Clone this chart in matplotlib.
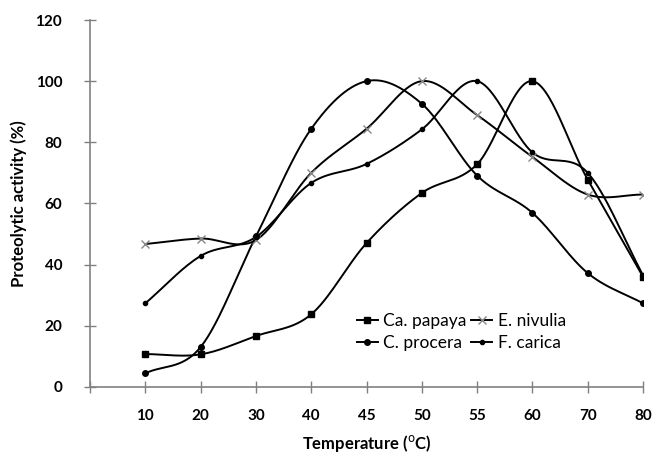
import numpy as np
import matplotlib
matplotlib.use("Agg")
import matplotlib.pyplot as plt
from matplotlib.lines import Line2D

temps = ["10", "20", "30", "40", "45", "50", "55", "60", "70", "80"]
ca_papaya = [10.7, 10.6, 16.6, 23.7, 47.0, 63.4, 72.8, 100.0, 67.8, 36.0]
e_nivulia = [46.7, 48.5, 48.0, 70.0, 84.4, 100.0, 88.9, 75.2, 62.9, 62.9]
c_procera = [4.4, 13.0, 49.2, 84.4, 100.0, 92.6, 69.1, 56.9, 37.2, 27.3]
f_carica = [27.3, 42.8, 49.0, 66.7, 72.9, 84.2, 100.0, 76.7, 70.0, 36.5]

plt.rcParams['font.family'] = ['Lato', 'DejaVu Sans']

fig = plt.figure(figsize=(6.67, 4.55), dpi=100)
ax = fig.add_axes([0.135, 0.150, 0.829, 0.806])

x = np.arange(1, len(temps) + 1)


def smooth(xs, ys, n=30):
    xs = np.asarray(xs, float); ys = np.asarray(ys, float)
    px = np.concatenate([[2 * xs[0] - xs[1]], xs, [2 * xs[-1] - xs[-2]]])
    py = np.concatenate([[2 * ys[0] - ys[1]], ys, [2 * ys[-1] - ys[-2]]])
    ox, oy = [], []
    for i in range(1, len(px) - 2):
        t = np.linspace(0, 1, n, endpoint=False)
        for P, out in ((px, ox), (py, oy)):
            p0, p1, p2, p3 = P[i - 1], P[i], P[i + 1], P[i + 2]
            out.extend(0.5 * ((2 * p1) + (-p0 + p2) * t + (2 * p0 - 5 * p1 + 4 * p2 - p3) * t ** 2
                              + (-p0 + 3 * p1 - 3 * p2 + p3) * t ** 3))
    ox.append(xs[-1]); oy.append(ys[-1])
    return np.array(ox), np.array(oy)


series = [
    ("Ca. papaya", ca_papaya, dict(marker='s', markersize=5, mfc='black', mec='black')),
    ("E. nivulia", e_nivulia, dict(marker='x', markersize=5.5, mfc='#888888', mec='#888888', mew=1.0)),
    ("C. procera", c_procera, dict(marker='o', markersize=4, mfc='black', mec='black')),
    ("F. carica", f_carica, dict(marker='o', markersize=3, mfc='black', mec='black')),
]

handles = []
for name, ys, st in series:
    sx, sy = smooth(x, ys)
    ax.plot(sx, sy, color='black', lw=1.4, zorder=2)
    ax.plot(x, ys, linestyle='none', zorder=3, **st)
    handles.append(Line2D([], [], color='black', lw=1.4, **st))

ax.set_xlim(0, 10)
ax.set_ylim(0, 120)
ax.set_xticks(np.arange(0, 11))
ax.set_xticklabels([""] + temps)
ax.set_yticks(np.arange(0, 121, 20))

for s in ['top', 'right']:
    ax.spines[s].set_visible(False)
for s in ['left', 'bottom']:
    ax.spines[s].set_color('#808080')
    ax.spines[s].set_linewidth(1.2)

ax.tick_params(axis='both', direction='inout', length=8, width=1.0, color='#808080',
               labelsize=11)
ax.tick_params(axis='x', pad=12)
ax.tick_params(axis='y', pad=16)
for lab in ax.get_xticklabels() + ax.get_yticklabels():
    lab.set_fontweight('bold')

ax.set_ylabel("Proteolytic activity (%)", fontsize=12, fontweight='bold', labelpad=6)
ax.set_xlabel("Temperature ($^{\\rm o}$C)", fontsize=12, fontweight='bold', labelpad=7)

order = [handles[0], handles[2], handles[1], handles[3]]
labels = ["Ca. papaya", "C. procera", "E. nivulia", "F. carica"]
ax.legend(order, labels, ncol=2, loc='upper left', bbox_to_anchor=(0.47, 0.22),
          frameon=False, fontsize=12.5, handlelength=1.2, handletextpad=0.3,
          columnspacing=0.3, labelspacing=0.35, borderaxespad=0)

fig.savefig("out.png", dpi=100)
